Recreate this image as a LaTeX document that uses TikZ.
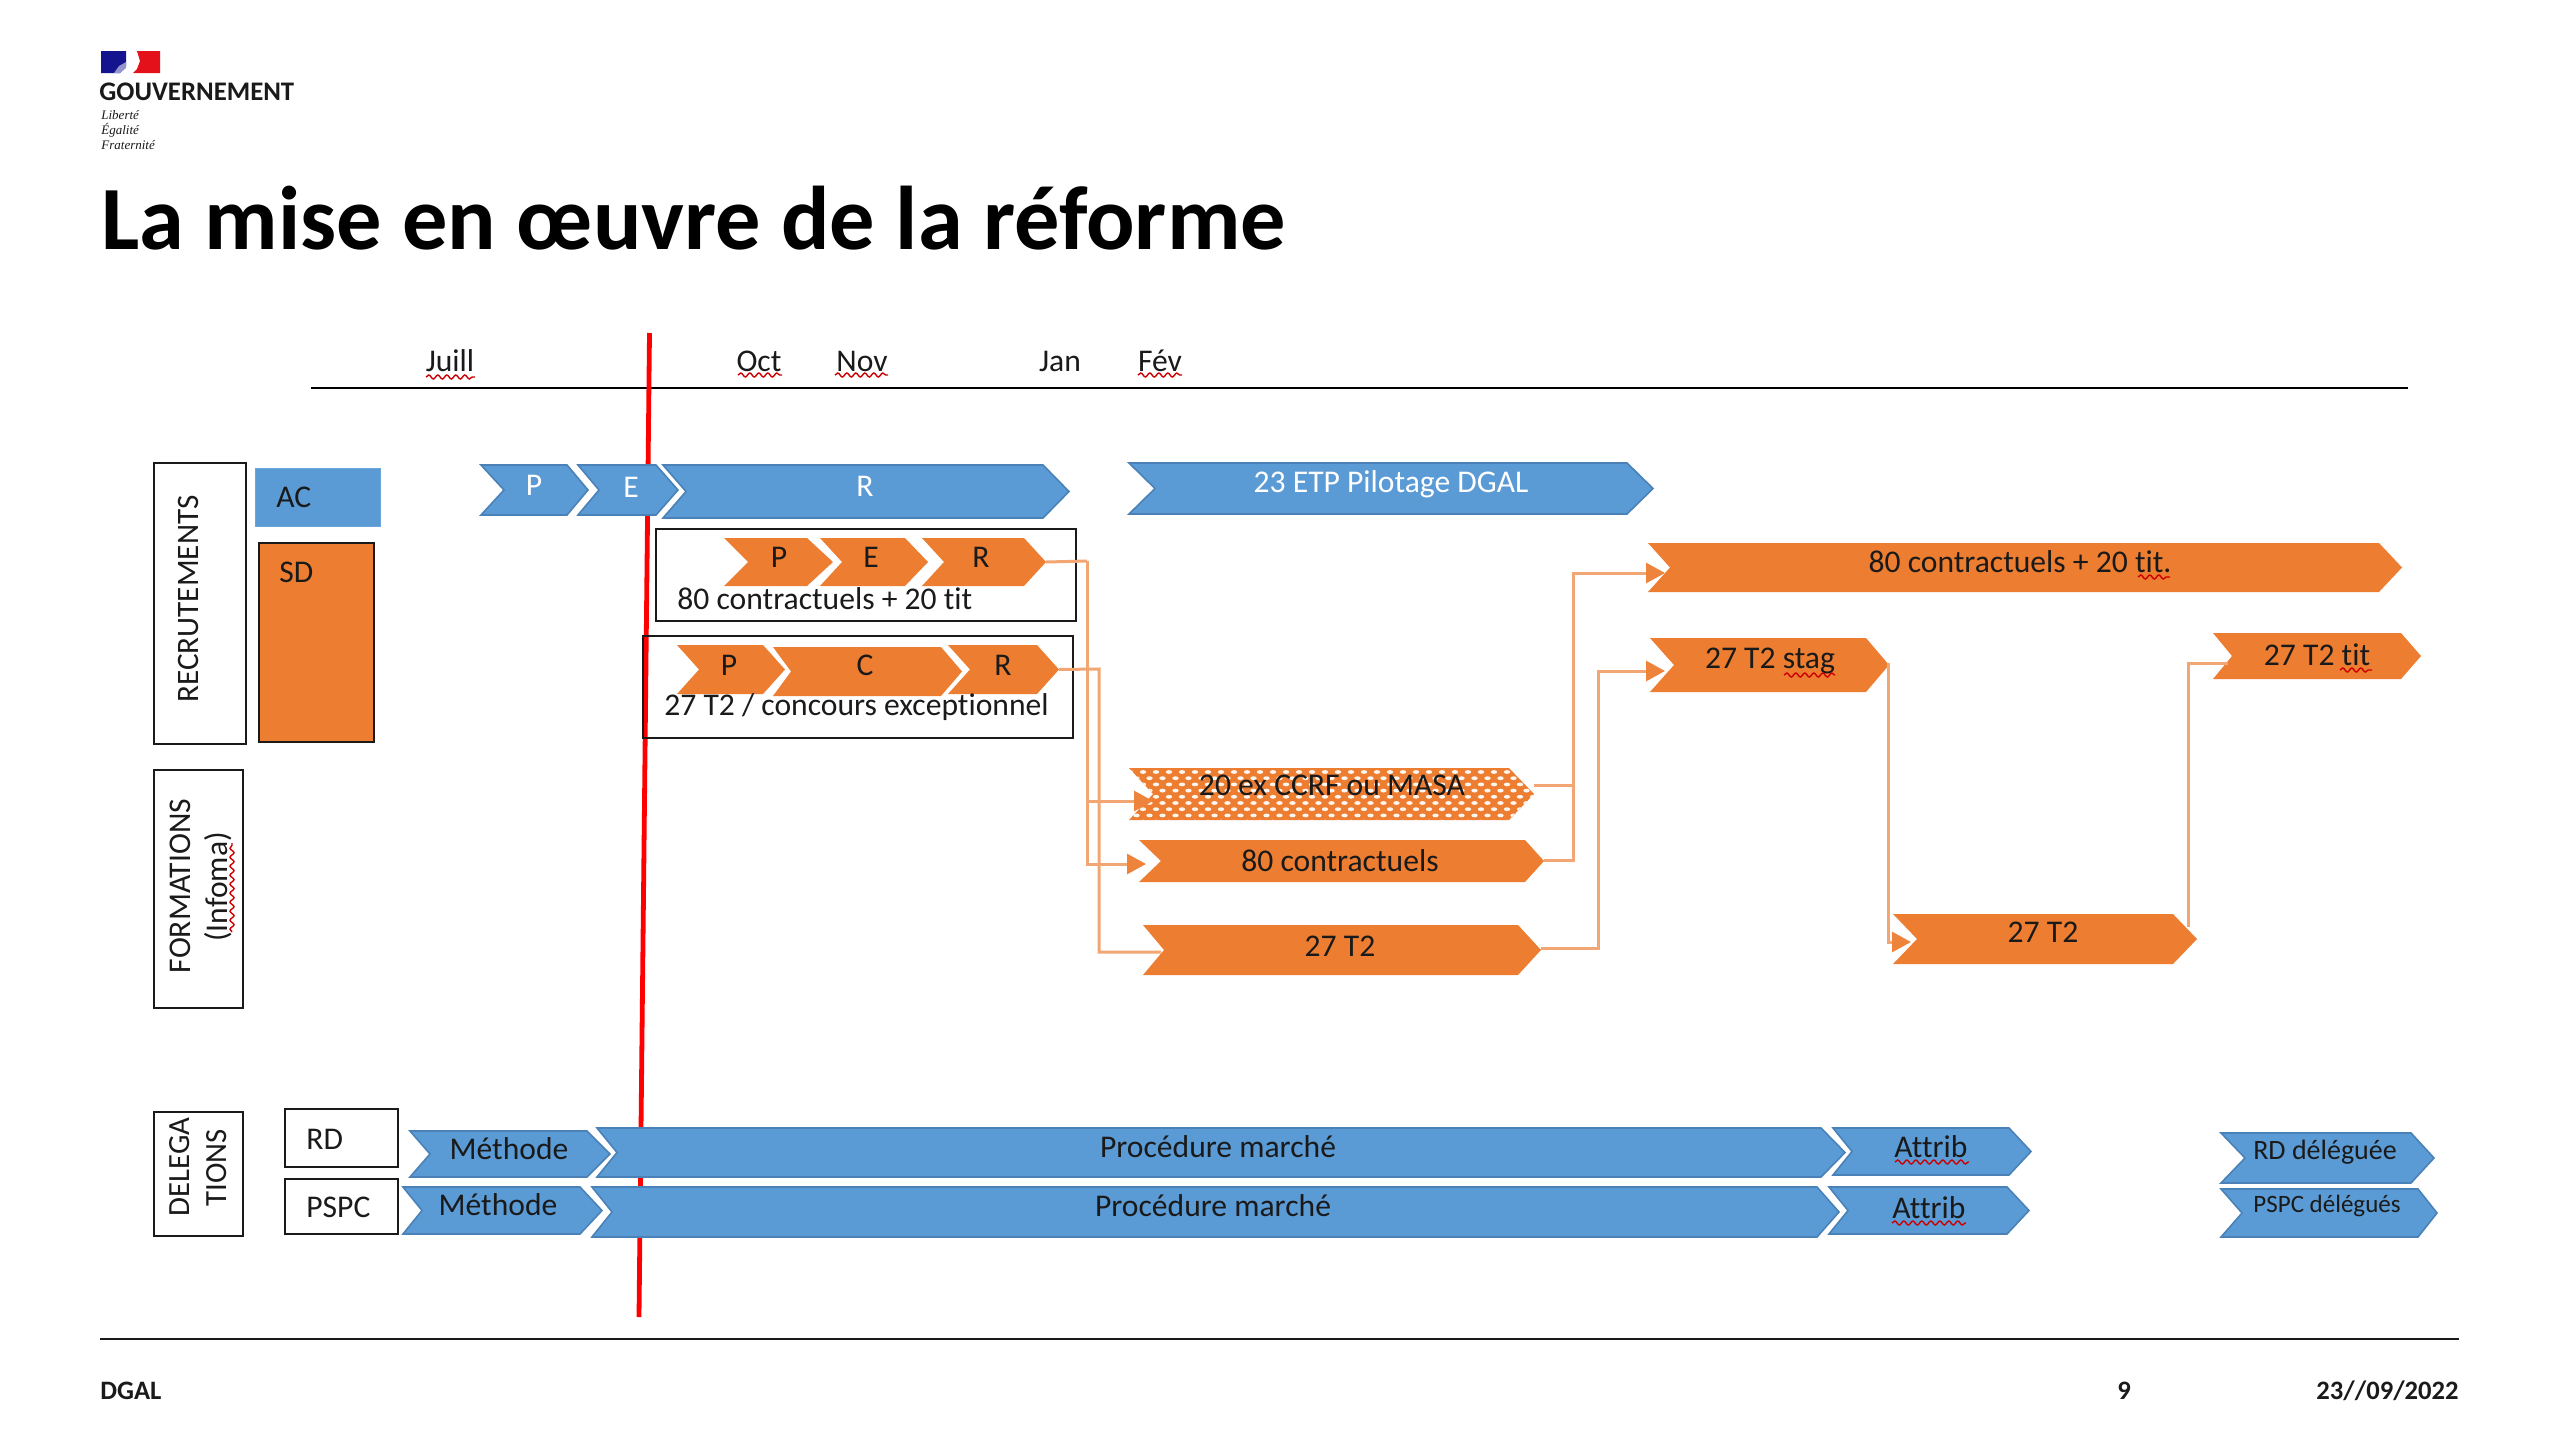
\documentclass[tikz,border=0pt]{standalone}
\usepackage{fontspec}
\setmainfont{Carlito}[Ligatures=CommonOff]
\newfontfamily\serifital{Liberation Serif}
\usetikzlibrary{arrows.meta,decorations.pathmorphing}
\definecolor{blu}{HTML}{5B9BD5}
\definecolor{bluedge}{HTML}{4A82B8}
\definecolor{org}{HTML}{ED7D31}
\definecolor{conn}{HTML}{F2A673}
\definecolor{inkk}{HTML}{1A1A1A}
\definecolor{flagb}{HTML}{14148F}
\definecolor{flagr}{HTML}{E4101A}
\newcommand\fs[1]{\fontsize{#1}{#1}\selectfont}
\newcommand\chev[8]{%
  \path[#1] (#3,#7) -- (#5,#7) -- (#6,{(#7+#8)/2}) -- (#5,#8) -- (#3,#8) -- (#4,{(#7+#8)/2}) -- cycle;
  \coordinate (#2-n) at (#4,{(#7+#8)/2});
  \coordinate (#2-t) at (#6,{(#7+#8)/2});
}
\tikzset{
  x=0.5pt,y=-0.5pt,
  bl/.style={fill=blu,draw=bluedge,line width=0.8pt,line join=miter},
  or/.style={fill=org,draw=none},
  tx/.style={inner sep=0pt,text=inkk,font=\fs{15.8}},
  wtx/.style={inner sep=0pt,text=white,font=\fs{15.8}},
  frame/.style={draw=inkk,line width=1.3pt,fill=none},
  cline/.style={draw=conn,line width=1.5pt,line join=miter},
  carrow/.style={cline,-{Triangle[length=9.5pt,width=10pt,color=org!85!conn]}},
  squig/.style={draw=red!80!black,line width=0.7pt,decorate,decoration={snake,amplitude=1pt,segment length=4.5pt}},
}
\begin{document}
\begin{tikzpicture}
\useasboundingbox (0,0) rectangle (2560,1440);
\fill[white] (0,0) rectangle (2560,1440);

% logo
\fill[flagb] (101,51) -- (126,51) -- (126,66) -- (120,73) -- (101,73) -- cycle;
\fill[flagb!45!white] (126,62) -- (126,68) -- (120,73) -- (114,73) -- (119,66) -- cycle;
\fill[flagr] (137,51) -- (160,51) -- (160,73) -- (133,73) -- (137,69) -- (140,61) -- cycle;
\node[inner sep=0pt,anchor=west,font=\fs{13.4}\bfseries,text=inkk] (gouv) at (99,92) {GOUVERNEMENT};
\node[inner sep=0pt,anchor=west,font=\fs{6.5}\serifital\itshape,text=inkk] (lib) at (101,115) {Liberté};
\node[inner sep=0pt,anchor=west,font=\fs{6.5}\serifital\itshape,text=inkk] (ega) at (101,130) {Égalité};
\node[inner sep=0pt,anchor=west,font=\fs{6.5}\serifital\itshape,text=inkk] (fra) at (101,145) {Fraternité};

% title
\node[inner sep=0pt,anchor=base west,font=\fs{45.2}\bfseries,text=black] (title) at (101,249) {La mise en œuvre de la réforme};

% timeline
\coordinate (tlA) at (311,388);
\coordinate (tlB) at (2408,388);
\draw[black,line width=1.3pt] (tlA) -- (tlB);
\node[tx] (juill) at (450,361) {Juill};
\node[tx] (oct) at (759,361) {Oct};
\node[tx] (nov) at (862,361) {Nov};
\node[tx] (jan) at (1060,361) {Jan};
\node[tx] (fev) at (1160,361) {Fév};
\draw[squig] (426,377) -- (475,377);
\draw[squig] (738,375) -- (782,375);
\draw[squig] (835,375) -- (888,375);
\draw[squig] (1138,375) -- (1182,375);

% red line
\coordinate (rA) at (649.5,333);
\coordinate (rB) at (639,1317);
\draw[red,line width=2.4pt] (rA) -- (rB);

% side boxes
\node[frame,minimum width=46pt,minimum height=140.5pt,inner sep=0pt] (recr) at (200,603.5) {};
\node[tx,rotate=90,font=\fs{15.6}] (recrt) at (188,599) {RECRUTEMENTS};
\node[frame,minimum width=44.5pt,minimum height=119pt,inner sep=0pt] (form) at (198.5,889) {};
\node[tx,rotate=90,font=\fs{15.8}] (formt) at (180,886) {FORMATIONS};
\node[tx,rotate=90,font=\fs{15.8}] (formi) at (218,887) {(Infoma)};
\draw[squig] (232,932) -- (232,843);
\node[frame,minimum width=44.5pt,minimum height=62pt,inner sep=0pt] (dele) at (198.5,1174) {};
\node[tx,rotate=90,font=\fs{15.4}] (delea) at (179.5,1167) {DELEGA};
\node[tx,rotate=90,font=\fs{15.4}] (deleb) at (217,1168) {TIONS};

\node[fill=blu,draw=blu!90!white,minimum width=62.5pt,minimum height=29pt,inner sep=0pt] (ac) at (317.5,497) {};
\node[tx,anchor=west] (act) at (276,497) {AC};
\node[fill=org,draw=inkk,line width=1.2pt,minimum width=57.5pt,minimum height=99.5pt,inner sep=0pt] (sd) at (316.5,642.5) {};
\node[tx,anchor=west] (sdt) at (279,572) {SD};

% top blue row
\chev{bl}{bp}{481}{504}{567}{588}{465}{515}
\chev{bl}{be}{578}{599}{656}{678}{465}{515}
\chev{bl}{br}{663}{686}{1043}{1069}{465}{518}
\chev{bl}{etp}{1129}{1155}{1627}{1653}{463}{514}
\node[wtx] (bpt) at (534,485) {P};
\node[wtx] (bet) at (631,487) {E};
\node[wtx] (brt) at (865,486) {R};
\node[wtx] (etpt) at (1391,484) {23 ETP Pilotage DGAL};

% group boxes
\node[frame,minimum width=210pt,minimum height=46pt,inner sep=0pt] (g1) at (866,575) {};
\node[frame,minimum width=215pt,minimum height=51pt,inner sep=0pt] (g2) at (858,687) {};
\chev{or}{p1}{724}{748}{807}{833}{538}{586}
\chev{or}{e1}{820}{842}{905}{928}{538}{586}
\chev{or}{r1}{922}{944}{1024}{1046}{538}{586}
\node[tx] (p1t) at (779,557) {P};
\node[tx] (e1t) at (871,557) {E};
\node[tx] (r1t) at (981,557) {R};
\node[tx,anchor=west] (g1t) at (677,599) {80 contractuels + 20 tit};
\chev{or}{p2}{677}{699}{763}{785}{645}{694}
\chev{or}{c2}{773}{791}{941}{962}{647}{696}
\chev{or}{r2}{948}{970}{1037}{1059}{645}{694}
\node[tx] (p2t) at (729,665) {P};
\node[tx] (c2t) at (865,665) {C};
\node[tx] (r2t) at (1003,665) {R};
\node[tx,anchor=west] (g2t) at (664,707) {27 T2 / concours exceptionnel};

% formations row
\chev{or}{hat}{1129}{1153}{1509}{1534}{768}{820}
\begin{scope}
\clip (1129,768) -- (1509,768) -- (1534,794) -- (1509,820) -- (1129,820) -- (1153,794) -- cycle;
\foreach \r in {0,...,8}{
  \pgfmathsetmacro{\yy}{772+\r*6.2}
  \pgfmathsetmacro{\xo}{1130+mod(\r,2)*6.5}
  \foreach \c in {0,...,32}{
    \fill[white!92!org] ({\xo+\c*13},\yy) ellipse (3.2 and 1.9);
  }
}
\end{scope}
\chev{or}{ctr}{1139}{1161}{1525}{1544}{840}{882}
\chev{or}{t2}{1143}{1164}{1518}{1541}{925}{975}
\chev{or}{bar}{1648}{1670}{2379}{2402}{543}{592}
\chev{or}{stag}{1650}{1674}{1866}{1889}{638}{692}
\chev{or}{t2b}{1893}{1917}{2173}{2197}{914}{964}
\chev{or}{tit}{2213}{2232}{2401}{2421}{633}{679}
\node[tx] (hatt) at (1332,785) {20 ex CCRF ou MASA};
\node[tx] (ctrt) at (1340,861) {80 contractuels};
\node[tx] (t2t) at (1340,946) {27 T2};
\node[tx] (bart) at (2020,562) {80 contractuels + 20 tit.};
\node[tx] (stagt) at (1770,661) {27 T2 stag};
\node[tx] (t2bt) at (2043,932) {27 T2};
\node[tx] (titt) at (2317,655) {27 T2 tit};
\draw[squig] (2138,577) -- (2170,577);
\draw[squig] (1784,675) -- (1835,675);
\draw[squig] (2340,670) -- (2372,670);

% connectors
\coordinate (busA) at (1087,561);
\coordinate (busB) at (1099,669);
\coordinate (inHat) at (1153,801);
\coordinate (inCtr) at (1146,864);
\coordinate (inT2) at (1161,952);
\coordinate (outHat) at (1534,785);
\coordinate (outCtr) at (1544,860);
\coordinate (outT2) at (1541,948);
\coordinate (busC) at (1573,785);
\coordinate (busD) at (1598,948);
\coordinate (inBar) at (1665,573);
\coordinate (inStag) at (1665,671);
\coordinate (outStag) at (1888,663);
\coordinate (inT2b) at (1911,942);
\coordinate (outT2b) at (2188,927);
\coordinate (inTit) at (2228,663);
\draw[cline] (r1-t) -- (busA);
\draw[carrow] (busA) |- (inHat);
\draw[carrow] (busA) |- (inCtr);
\draw[cline] (r2-t) -- (busB) |- (inT2);
\draw[cline] (outHat) -- (busC);
\draw[carrow] (outCtr) -| (busC) |- (inBar);
\draw[carrow] (outT2) -- (busD) |- (inStag);
\draw[carrow] (outStag) |- (inT2b);
\draw[cline] (outT2b) |- (inTit);

% delegations
\node[frame,minimum width=56.5pt,minimum height=29pt,inner sep=0pt] (rd) at (341.5,1138) {};
\node[tx,anchor=west] (rdt) at (306,1139) {RD};
\node[frame,minimum width=56.5pt,minimum height=27.5pt,inner sep=0pt] (pspc) at (341.5,1206.5) {};
\node[tx,anchor=west] (pspct) at (306,1207) {PSPC};
\chev{bl}{m1}{410}{430}{587}{610}{1131}{1177}
\chev{bl}{pm1}{597}{617}{1821}{1845}{1128}{1177}
\chev{bl}{a1}{1833}{1852}{2009}{2031}{1128}{1175}
\chev{bl}{m2}{403}{422}{580}{602}{1187}{1234}
\chev{bl}{pm2}{592}{612}{1817}{1839}{1187}{1237}
\chev{bl}{a2}{1829}{1848}{2007}{2029}{1187}{1234}
\chev{bl}{rdd}{2221}{2245}{2411}{2434}{1133}{1183}
\chev{bl}{psd}{2221}{2242}{2418}{2437}{1189}{1237}
\node[tx] (m1t) at (509,1149) {Méthode};
\node[tx] (pm1t) at (1218,1147) {Procédure marché};
\node[tx] (a1t) at (1931,1147) {Attrib};
\node[tx] (m2t) at (498,1205) {Méthode};
\node[tx] (pm2t) at (1213,1206) {Procédure marché};
\node[tx] (a2t) at (1929,1208) {Attrib};
\node[tx,font=\fs{14}] (rddt) at (2325,1152) {RD déléguée};
\node[tx,font=\fs{12.5}] (psdt) at (2327,1206) {PSPC délégués};
\draw[squig] (1895,1162) -- (1969,1162);
\draw[squig] (1892,1223) -- (1966,1223);

% footer
\coordinate (fA) at (100,1339);
\coordinate (fB) at (2459,1339);
\draw[inkk,line width=1.3pt] (fA) -- (fB);
\node[inner sep=0pt,anchor=west,font=\fs{13.3}\bfseries,text=inkk] (dgal) at (100,1391) {DGAL};
\node[inner sep=0pt,font=\fs{13.3}\bfseries,text=inkk] (pg) at (2124,1391) {9};
\node[inner sep=0pt,anchor=east,font=\fs{13.3}\bfseries,text=inkk] (date) at (2459,1391) {23//09/2022};
\end{tikzpicture}
\end{document}
